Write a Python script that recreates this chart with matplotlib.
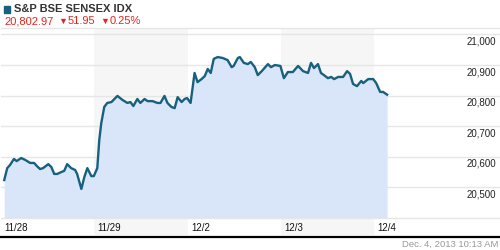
import matplotlib
matplotlib.use("Agg")
import matplotlib.pyplot as plt
import matplotlib.transforms as mtransforms
from matplotlib.lines import Line2D
from matplotlib.patches import Rectangle

plt.rcParams['font.family'] = ['Liberation Sans', 'DejaVu Sans']

# Trading days and intraday readings (minutes after 9:15 open, index level)
days = ['11/28', '11/29', '12/2', '12/3', '12/4']
session_minutes = 375

d1_min = [13, 25, 36, 52, 63, 81, 97, 117, 133, 144, 157, 169, 190, 202, 214,
          226, 242, 254, 266, 282, 298, 306, 323, 335, 347, 363, 373]
d1_val = [20524, 20563, 20573, 20593, 20586, 20596, 20590, 20580, 20580, 20570,
          20560, 20563, 20576, 20567, 20544, 20544, 20550, 20554, 20576, 20563,
          20557, 20544, 20495, 20534, 20563, 20537, 20537]

d2_min = [12, 20, 28, 40, 52, 69, 93, 113, 133, 145, 157, 173, 185, 202, 214,
          234, 254, 266, 282, 294, 310, 323, 335, 351, 363, 373]
d2_val = [20563, 20655, 20710, 20763, 20776, 20779, 20799, 20786, 20776, 20779,
          20766, 20789, 20776, 20789, 20782, 20782, 20776, 20776, 20799, 20776,
          20763, 20759, 20795, 20779, 20789, 20792]

d3_min = [12, 28, 40, 56, 69, 81, 93, 105, 121, 141, 161, 177, 185, 202, 210,
          226, 242, 254, 270, 282, 298, 323, 335, 351, 373]
d3_val = [20776, 20874, 20844, 20854, 20864, 20887, 20874, 20920, 20926, 20923,
          20916, 20893, 20897, 20923, 20926, 20907, 20903, 20910, 20893, 20867,
          20880, 20903, 20893, 20900, 20897]

d4_min = [12, 28, 48, 69, 89, 109, 121, 133, 149, 161, 173, 189, 202, 214, 230,
          250, 266, 278, 290, 306, 323, 331, 351, 371]
d4_val = [20857, 20877, 20877, 20897, 20880, 20874, 20907, 20890, 20903, 20874,
          20867, 20857, 20861, 20854, 20861, 20861, 20880, 20871, 20838, 20831,
          20848, 20841, 20854, 20854]

d5_min = [8, 24, 36, 52]
d5_val = [20841, 20812, 20812, 20803]

y_ticks = [20500, 20600, 20700, 20800, 20900, 21000]

line_color = '#17617f'
fill_color = '#d9e5f8'
band_color = '#f6f6f6'
grid_color = '#e6e6e6'

x = []
y = []
for i, (mins, vals) in enumerate([(d1_min, d1_val), (d2_min, d2_val), (d3_min, d3_val),
                                  (d4_min, d4_val), (d5_min, d5_val)]):
    x += [i + m / session_minutes for m in mins]
    y += vals

fig = plt.figure(figsize=(5, 2.5), dpi=100)
ax = fig.add_axes([1 / 500, 32 / 250, 498 / 500, 190 / 250])
ax.set_xlim(0, 498 / 93.3)
ax.set_ylim(20400, 21021)

# alternating day bands (extend into the date label strip)
for i in range(1, len(days), 2):
    ax.axvspan(i, i + 1, ymin=-0.09, ymax=1, color=band_color, lw=0,
               clip_on=False, zorder=0)

for t in y_ticks:
    ax.axhline(t, color=grid_color, lw=1, zorder=1, clip_on=False)

ax.fill_between(x, y, 20400, color=fill_color, lw=0, zorder=2)
ax.plot(x, y, color=line_color, lw=1.7, zorder=3, solid_joinstyle='round')

for s in ['left', 'right']:
    ax.spines[s].set_visible(False)
for s in ['top', 'bottom']:
    ax.spines[s].set_color(grid_color)
    ax.spines[s].set_linewidth(1)
ax.set_xticks([])
ax.set_yticks([])
ax.patch.set_alpha(0)

trans = mtransforms.blended_transform_factory(ax.transAxes, ax.transData)
for t in y_ticks:
    ax.text(495 / 498, t - 23, f'{t:,}', transform=trans, ha='right', va='center',
            fontsize=7, color='#222222')

xtrans = mtransforms.blended_transform_factory(ax.transData, ax.transAxes)
for i, d in enumerate(days):
    ax.text(i + 0.035, -0.053, d, transform=xtrans, ha='left', va='center',
            fontsize=7, color='#111111')

# header
fig.patches.append(Rectangle((4 / 500, 1 - 13 / 250), 6 / 500, 7 / 250,
                             transform=fig.transFigure, color=line_color))
fig.text(14 / 500, 1 - 9.5 / 250, 'S&P BSE SENSEX IDX', fontsize=8, fontweight='bold',
         color='#333333', va='center', ha='left')
red = '#e8231f'
fig.text(4 / 500, 1 - 21.5 / 250, '20,802.97', fontsize=8, color=red, va='center')
fig.text(58 / 500, 1 - 21 / 250, '\u25bc', fontsize=6.5, color=red, va='center')
fig.text(68 / 500, 1 - 21.5 / 250, '51.95', fontsize=8, color=red, va='center')
fig.text(100 / 500, 1 - 21 / 250, '\u25bc', fontsize=6.5, color=red, va='center')
fig.text(110 / 500, 1 - 21.5 / 250, '0.25%', fontsize=8, color=red, va='center')

# footer
fig.add_artist(Line2D([0, 1], [1 - 237 / 250] * 2, transform=fig.transFigure,
                      color='black', lw=1.6))
fig.text(498 / 500, 1 - 244 / 250, 'Dec. 4, 2013 10:13 AM', fontsize=6.8,
         color='#999999', ha='right', va='center')

fig.savefig('out.png', dpi=100)
